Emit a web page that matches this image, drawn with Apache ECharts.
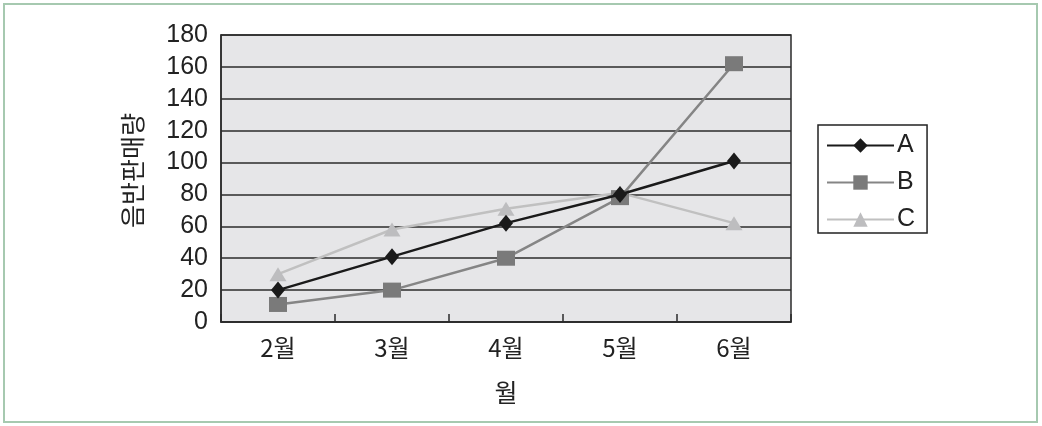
<!DOCTYPE html>
<html>
<head>
<meta charset="utf-8">
<script src="https://cdn.jsdelivr.net/npm/echarts@6/dist/echarts.min.js"></script>
<style>
  html, body { margin: 0; padding: 0; background: #ffffff; }
  #chart { width: 1042px; height: 426px; }
</style>
</head>
<body>
<div id="chart"></div>
<script>
// Monthly record sales for three items
const months = ['2월', '3월', '4월', '5월', '6월'];
const seriesA = [20, 41, 62, 80, 101];
const seriesB = [11, 20, 40, 78, 162];
const seriesC = [30, 58, 71, 81, 62];
const seriesNames = ['A', 'B', 'C'];
const yAxisTitle = '음반판매량';
const xAxisTitle = '월';

const numFont = '"Liberation Sans", Arial, sans-serif';
const krFont = '"Noto Sans CJK KR", "Liberation Sans", sans-serif';

const chart = echarts.init(document.getElementById('chart'), null, { renderer: 'canvas' });

chart.setOption({
  animation: false,
  backgroundColor: '#ffffff',
  graphic: [{
    type: 'rect',
    shape: { x: 4, y: 4, width: 1033, height: 418 },
    style: { fill: 'none', stroke: '#a6c9b0', lineWidth: 2 },
    silent: true
  }],
  grid: {
    left: 221, top: 35, right: 251, bottom: 104,
    show: true,
    backgroundColor: '#e6e6e8',
    borderColor: '#2b2b2b',
    borderWidth: 1.5
  },
  legend: {
    orient: 'vertical',
    left: 818, top: 125,
    padding: [8, 12, 1, 8],
    itemWidth: 67,
    itemHeight: 18,
    itemGap: 12,
    borderColor: '#222',
    borderWidth: 1.5,
    backgroundColor: '#ffffff',
    textStyle: { fontFamily: numFont, fontSize: 25, color: '#222', padding: [0, 0, 0, -2] },
    data: seriesNames
  },
  xAxis: {
    type: 'category',
    data: months,
    boundaryGap: true,
    name: xAxisTitle,
    nameLocation: 'middle',
    nameGap: 58,
    nameTextStyle: { fontFamily: krFont, fontSize: 25, color: '#222' },
    axisLine: { show: true, lineStyle: { color: '#2b2b2b', width: 1.5 } },
    axisTick: { show: true, inside: true, length: 8, lineStyle: { color: '#2b2b2b', width: 1.5 } },
    axisLabel: { fontFamily: krFont, fontSize: 24, color: '#222', margin: 14 },
    splitLine: { show: false }
  },
  yAxis: {
    type: 'value',
    min: 0, max: 180, interval: 20,
    name: yAxisTitle,
    nameLocation: 'middle',
    nameGap: 76,
    nameRotate: 90,
    nameTextStyle: { fontFamily: krFont, fontSize: 25, color: '#222', padding: [0, 0, 0, 16] },
    axisLine: { show: true, lineStyle: { color: '#2b2b2b', width: 1.5 } },
    axisTick: { show: false },
    axisLabel: { fontFamily: numFont, fontSize: 25, color: '#222', margin: 13 },
    splitLine: { show: true, lineStyle: { color: '#2b2b2b', width: 1.5 } }
  },
  series: [
    {
      name: seriesNames[0], type: 'line', data: seriesA,
      symbol: 'diamond', symbolSize: [14, 17],
      lineStyle: { color: '#1a1a1a', width: 2.5 },
      itemStyle: { color: '#1a1a1a' },
      z: 4
    },
    {
      name: seriesNames[1], type: 'line', data: seriesB,
      symbol: 'rect', symbolSize: [18, 15],
      lineStyle: { color: '#858585', width: 2.5 },
      itemStyle: { color: '#7a7a7a' },
      z: 3
    },
    {
      name: seriesNames[2], type: 'line', data: seriesC,
      symbol: 'triangle', symbolSize: [17, 14],
      lineStyle: { color: '#c0c0c0', width: 2.5 },
      itemStyle: { color: '#bdbdbf' },
      z: 2
    }
  ]
});
</script>
</body>
</html>
